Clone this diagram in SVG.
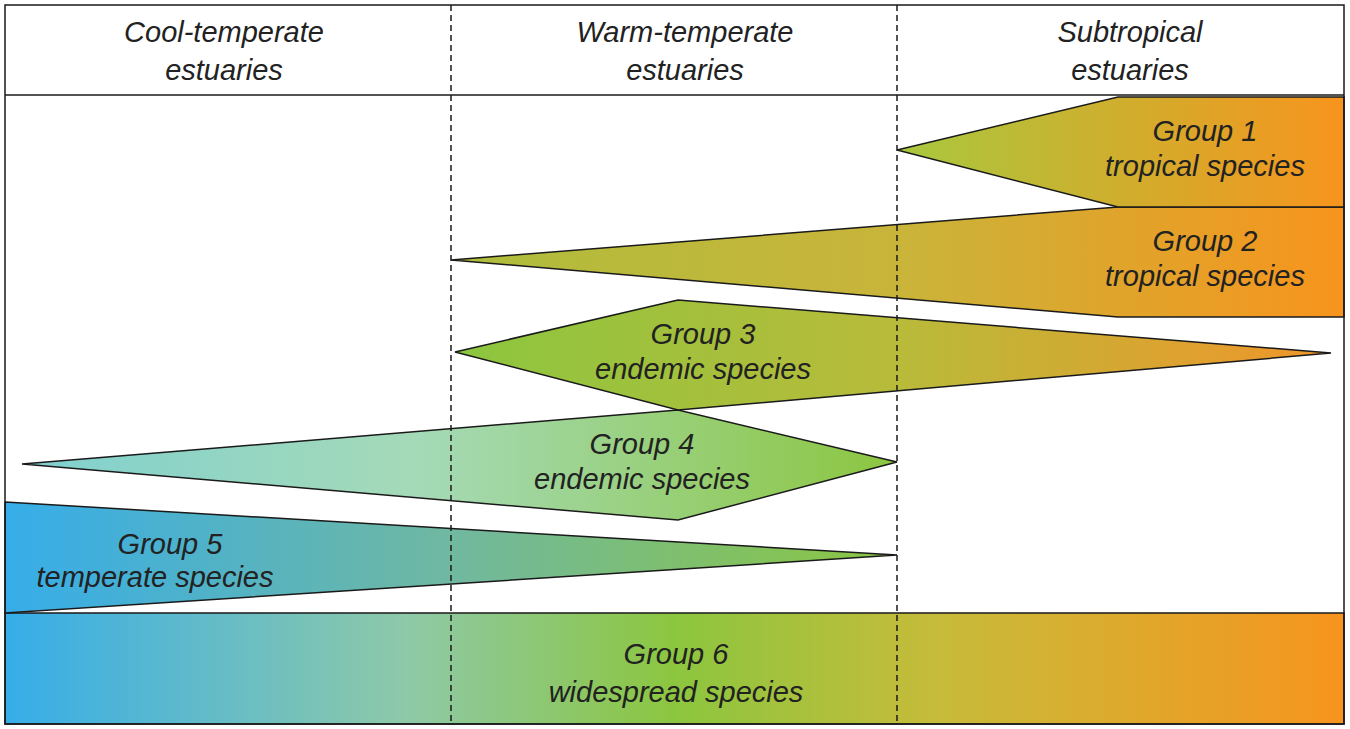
<svg xmlns="http://www.w3.org/2000/svg" width="1350" height="729" viewBox="0 0 1350 729">
<defs>
<linearGradient id="g6" x1="0" y1="0" x2="1" y2="0">
<stop offset="0" stop-color="#36ade9"/>
<stop offset="0.3" stop-color="#8ec9a8"/>
<stop offset="0.5" stop-color="#8cc63f"/>
<stop offset="0.7" stop-color="#c8bb3a"/>
<stop offset="1" stop-color="#f7941d"/>
</linearGradient>
<linearGradient id="g5" x1="0" y1="0" x2="1" y2="0">
<stop offset="0" stop-color="#36ade9"/>
<stop offset="0.5" stop-color="#70b8a0"/>
<stop offset="1" stop-color="#8cc63f"/>
</linearGradient>
<linearGradient id="g4" x1="0" y1="0" x2="1" y2="0">
<stop offset="0" stop-color="#7fd0d0"/>
<stop offset="0.45" stop-color="#a5dab8"/>
<stop offset="1" stop-color="#8cc63f"/>
</linearGradient>
<linearGradient id="g3" x1="0" y1="0" x2="1" y2="0">
<stop offset="0" stop-color="#8cc63f"/>
<stop offset="0.5" stop-color="#b8bb3a"/>
<stop offset="1" stop-color="#f0952a"/>
</linearGradient>
<linearGradient id="g2" x1="0" y1="0" x2="1" y2="0">
<stop offset="0" stop-color="#aebd3c"/>
<stop offset="0.5" stop-color="#c9b43a"/>
<stop offset="1" stop-color="#f7941d"/>
</linearGradient>
<linearGradient id="g1" x1="0" y1="0" x2="1" y2="0">
<stop offset="0" stop-color="#a8c83e"/>
<stop offset="1" stop-color="#f7941d"/>
</linearGradient>
<style>
.s{stroke:#1a1a1a;stroke-width:1.5}
text{font-family:"Liberation Sans",Arial,sans-serif;font-style:italic;font-size:29px;fill:#222;text-anchor:middle}
.d{stroke:#1a1a1a;stroke-width:1.5;stroke-dasharray:6,4;fill:none}
</style>
</defs>
<rect x="0" y="0" width="1350" height="729" fill="#fff"/>
<g id="group6"><rect class="s" fill="url(#g6)" x="5" y="613" width="1339" height="111"/><text x="676" y="664">Group 6</text><text x="676" y="702">widespread species</text></g>
<g id="group5"><polygon class="s" fill="url(#g5)" points="5,502 897,555 5,613"/><text x="170" y="554">Group 5</text><text x="155" y="587">temperate species</text></g>
<g id="group4"><polygon class="s" fill="url(#g4)" points="22,464 678,410 897,462 678,520"/><text x="642" y="454">Group 4</text><text x="642" y="489">endemic species</text></g>
<g id="group3"><polygon class="s" fill="url(#g3)" points="455,352 678,300 1331,353 678,410"/><text x="703" y="344">Group 3</text><text x="703" y="379">endemic species</text></g>
<g id="group2"><polygon class="s" fill="url(#g2)" points="451,260 1118,207 1344,207 1344,317 1118,317"/><text x="1205" y="251">Group 2</text><text x="1205" y="286">tropical species</text></g>
<g id="group1"><polygon class="s" fill="url(#g1)" points="897,150 1118,97 1344,97 1344,207 1118,207"/><text x="1205" y="141">Group 1</text><text x="1205" y="176">tropical species</text></g>
<g id="frame">
<rect x="5" y="5" width="1339" height="719" fill="none" stroke="#1a1a1a" stroke-width="1.5"/>
<line x1="5" y1="95" x2="1344" y2="95" stroke="#1a1a1a" stroke-width="1.5"/>
<line class="d" x1="451" y1="5" x2="451" y2="724"/>
<line class="d" x1="897" y1="5" x2="897" y2="724"/>
</g>
<g id="headers">
<text x="224" y="42">Cool-temperate</text><text x="224" y="80">estuaries</text>
<text x="685" y="42">Warm-temperate</text><text x="685" y="80">estuaries</text>
<text x="1130" y="42">Subtropical</text><text x="1130" y="80">estuaries</text>
</g>
</svg>
